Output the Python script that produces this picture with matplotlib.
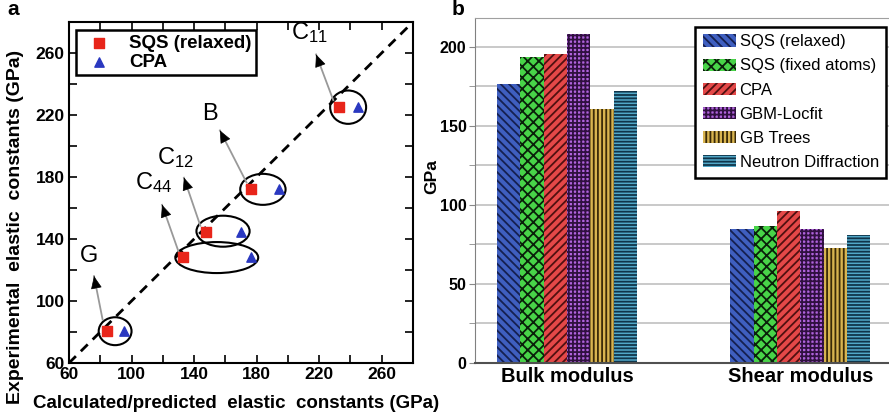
import matplotlib
matplotlib.use("Agg")
import matplotlib.pyplot as plt
from matplotlib.patches import Ellipse
from matplotlib.ticker import MultipleLocator, FixedLocator
import numpy as np

plt.rcParams['font.family'] = ['Liberation Sans', 'DejaVu Sans']
plt.rcParams['hatch.linewidth'] = 1.3

# %% panel a data
labels = ['G', 'C44', 'C12', 'B', 'C11']
sqs_calc = [84.5, 133, 147.5, 176.5, 232.5]
cpa_calc = [95, 176.5, 170, 194.5, 244.5]
experimental = [80.5, 128.5, 144.5, 172.5, 225]

# ellipses: center x, center y, width, height
ell_x = [89.5, 154.5, 158.5, 184, 238.5]
ell_y = [80.5, 128, 145, 172, 225]
ell_w = [21, 53, 34, 29, 23]
ell_h = [18, 20, 20, 20, 21.5]

# arrows: tail -> head, and label positions
arr_tail = [(81.5, 88), (130, 132), (144, 148.5), (173.5, 176.5), (229, 229.5)]
arr_head = [(76, 116), (119.5, 162), (133.5, 179.5), (156.5, 210), (218, 259)]
lab_pos = [(73, 129), (114, 176.5), (128, 192.5), (150, 220.5), (213.5, 273)]
lab_text = ['G', r'$\mathregular{C_{44}}$', r'$\mathregular{C_{12}}$', 'B', r'$\mathregular{C_{11}}$']

# %% panel b data
groups = ['Bulk modulus', 'Shear modulus']
series = ['SQS (relaxed)', 'SQS (fixed atoms)', 'CPA', 'GBM-Locfit', 'GB Trees', 'Neutron Diffraction']
bulk = [176.5, 193.7, 195.5, 208, 160.7, 171.7]
shear = [84.6, 86.7, 95.8, 84.6, 72.7, 80.7]
colors = ['#3f5fc0', '#48d448', '#e44848', '#b062dc', '#d8b450', '#52a8c8']
hatch_cols = ['#152050', '#0a200a', '#501010', '#301040', '#3a2a08', '#10354a']
hatches = ['\\\\\\\\', 'xxx', '////', '++++', '||||', '-----']

fig = plt.figure(figsize=(8.89, 4.18), dpi=100)

# %% panel a
ax = fig.add_axes([0.0776, 0.1316, 0.387, 0.816])
ax.plot([60, 280], [60, 280], 'k--', lw=2, dashes=(3.5, 2.5))
for i in range(len(labels)):
    ax.add_patch(Ellipse((ell_x[i], ell_y[i]), ell_w[i], ell_h[i], fill=False, ec='black', lw=1.5))
    tx, ty = arr_tail[i]
    hx, hy = arr_head[i]
    ax.plot([tx, hx], [ty, hy], color='#999999', lw=1.3)
    dx, dy = hx - tx, hy - ty
    ax.annotate('', xy=(hx, hy), xytext=(hx - dx * 0.02, hy - dy * 0.02),
                arrowprops=dict(arrowstyle='-|>,head_length=0.8,head_width=0.35', color='black', lw=0.5))
    ax.text(lab_pos[i][0], lab_pos[i][1], lab_text[i], fontsize=17, ha='center', va='center')
ax.scatter(sqs_calc, experimental, marker='s', s=45, color='#e8251a', label='SQS (relaxed)', zorder=3)
ax.scatter(cpa_calc, experimental, marker='^', s=45, color='#2a38c0', label='CPA', zorder=3)
ax.set_xlim(60, 280)
ax.set_ylim(60, 280)
ax.xaxis.set_major_locator(FixedLocator(np.arange(60, 261, 40)))
ax.yaxis.set_major_locator(FixedLocator(np.arange(60, 261, 40)))
ax.xaxis.set_minor_locator(MultipleLocator(20))
ax.yaxis.set_minor_locator(MultipleLocator(20))
ax.tick_params(which='both', direction='in', top=True, right=True, width=1.2)
ax.tick_params(which='major', length=6, labelsize=12.5, pad=3)
ax.tick_params(which='minor', length=6)
for lab in ax.get_xticklabels() + ax.get_yticklabels():
    lab.set_fontweight('bold')
for s in ax.spines.values():
    s.set_linewidth(1.5)
ax.set_xlabel('Calculated/predicted  elastic  constants (GPa)', fontsize=13.5, fontweight='bold')
ax.xaxis.set_label_coords(0.485, -0.095)
ax.set_ylabel('Experimental  elastic  constants (GPa)', fontsize=14, fontweight='bold')
ax.yaxis.set_label_coords(-0.13, 0.4)
leg = ax.legend(loc='upper left', bbox_to_anchor=(0.02, 0.977), prop={'weight': 'bold', 'size': 13.5},
                fancybox=False, edgecolor='black', framealpha=1, handletextpad=0.6, borderpad=0.25,
                labelspacing=0.1, scatterpoints=1, borderaxespad=0)
leg.get_frame().set_linewidth(1.8)

# %% panel b
bx = fig.add_axes([0.534, 0.1316, 0.47, 0.825])
x = np.arange(len(groups))
w = 0.1
for j in range(len(series)):
    vals = [bulk[j], shear[j]]
    bx.bar(x + (j - 2.5) * w, vals, w, color=colors[j], edgecolor=hatch_cols[j], hatch=hatches[j],
           linewidth=0, label=series[j], zorder=2)
bx.set_xlim(-0.395, 1.395)
bx.set_ylim(0, 218)
bx.yaxis.set_major_locator(MultipleLocator(50))
bx.yaxis.set_minor_locator(MultipleLocator(25))
bx.grid(axis='y', which='both', color='#c0c0c0', lw=1.2, zorder=0)
bx.set_axisbelow(True)
bx.set_xticks(x)
bx.set_xticklabels(groups, fontsize=14.5, fontweight='bold')
bx.tick_params(axis='x', length=0, pad=3)
bx.tick_params(axis='y', which='both', length=4, color='#888888', labelsize=11.5, pad=2)
for lab in bx.get_yticklabels():
    lab.set_fontweight('bold')
bx.spines['right'].set_visible(False)
bx.spines['top'].set_color('#a0a0a0')
bx.spines['left'].set_color('#808080')
bx.spines['bottom'].set_color('#505050')
bx.spines['bottom'].set_linewidth(1.5)
bx.set_ylabel('GPa', fontsize=12.5, fontweight='bold')
bx.yaxis.set_label_coords(-0.085, 0.54)
leg2 = bx.legend(loc='upper right', bbox_to_anchor=(0.985, 0.975), fontsize=12, fancybox=False,
                 edgecolor='black', framealpha=1, handlelength=2.0, handleheight=0.75, handletextpad=0.2,
                 labelspacing=0.55, borderpad=0.45, borderaxespad=0)
leg2.get_frame().set_linewidth(1.8)

fig.text(0.008, 0.965, 'a', fontsize=15, fontweight='bold')
fig.text(0.508, 0.965, 'b', fontsize=15, fontweight='bold')

plt.savefig('out.png', dpi=100)
